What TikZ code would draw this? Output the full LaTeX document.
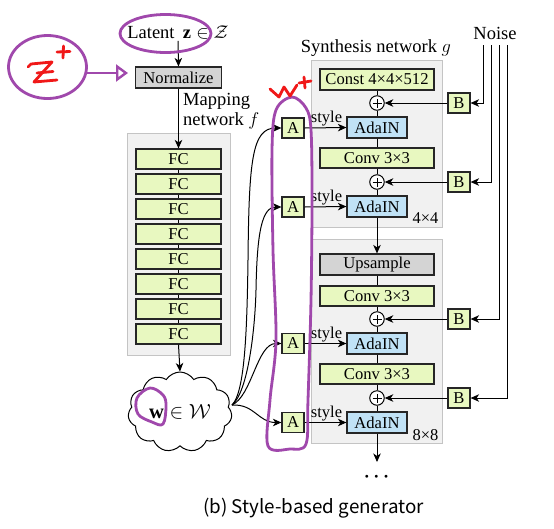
\RequirePackage{fix-cm}
\documentclass[tikz,border=0pt]{standalone}
\usepackage{fontspec}
\setmainfont{Liberation Serif}
\newfontfamily\capfont{Noto Sans CJK KR}
\usetikzlibrary{arrows.meta,shapes.symbols}
\definecolor{boxgreen}{RGB}{232,248,192}
\definecolor{boxblue}{RGB}{192,226,246}
\definecolor{boxgray}{RGB}{212,212,212}
\definecolor{panelgray}{RGB}{241,241,241}
\definecolor{panelborder}{RGB}{196,196,196}
\definecolor{penpurple}{RGB}{160,72,172}
\definecolor{penred}{RGB}{240,24,24}
\tikzset{
  box/.style={draw=black!85, line width=1.2pt, minimum height=20pt, inner sep=0pt, font=\fontsize{16.6}{18}\selectfont},
  gbox/.style={box, fill=boxgreen},
  bluebox/.style={box, fill=boxblue, minimum width=60pt, minimum height=21pt},
  greybox/.style={box, fill=boxgray},
  smallbox/.style={gbox, minimum width=22pt},
  arr/.style={-{Stealth[length=8.5pt,width=7.5pt,inset=2.5pt]}, line width=1pt},
  ln/.style={line width=1pt},
  plus/.style={circle, draw, fill=white, minimum size=14.5pt, inner sep=0pt, line width=1pt,
    path picture={\draw[line width=0.8pt] ([xshift=-4.5pt]path picture bounding box.center) -- ([xshift=4.5pt]path picture bounding box.center) ([yshift=-4.5pt]path picture bounding box.center) -- ([yshift=4.5pt]path picture bounding box.center);}},
  panel/.style={fill=panelgray, draw=panelborder, line width=1pt, inner sep=0pt},
  lbl/.style={font=\fontsize{18.5}{20}\selectfont, inner sep=0pt},
  slbl/.style={font=\fontsize{16.5}{18}\selectfont, inner sep=0pt},
  pen/.style={draw=penpurple, line width=2.8pt, line cap=round, line join=round},
  redpen/.style={draw=penred, line width=2.8pt, line cap=round, line join=round},
}
\begin{document}
\begin{tikzpicture}[x=1pt,y=-1pt]
\useasboundingbox (0,0) rectangle (554,528);
\fill[white] (0,0) rectangle (554,528);

% ---------- mapping network ----------
\node[lbl, anchor=base] (latent) at (178,38) {Latent\hspace{0.45em}$\mathbf{z}\in\mathcal{Z}$};
\node[greybox, minimum width=86pt, minimum height=21pt] (norm) at (178.5,77.5) {Normalize};
\node[lbl, align=left, anchor=north west] (maplbl) at (183,93.5) {Mapping\\network $f$};
\node[panel, minimum width=103pt, minimum height=222pt] (mapbg) at (178.5,244) {};
\foreach \i in {1,...,8} {
  \node[gbox, minimum width=85pt] (fc\i) at (178.5,{134+25*\i}) {FC};
}
\foreach \i [evaluate=\i as \j using int(\i+1)] in {1,...,7} {
  \draw[ln] (fc\i.south) -- (fc\j.north);
}
\draw[arr] ([yshift=-2pt]latent.south) -- (norm.north);
\draw[arr] (norm.south) -- (fc1.north);
\node[cloud, draw, line width=1pt, fill=white, cloud puffs=11, cloud puff arc=115, aspect=1.3,
      minimum width=104pt, minimum height=80pt, inner sep=0pt, font=\fontsize{20.5}{22}\selectfont]
      (cloud) at (180,412) {$\mathbf{w}\in\mathcal{W}$};
\draw[arr] (fc8.south) -- (cloud.north);

% ---------- synthesis network ----------
\node[lbl, anchor=base] (synlbl) at (376,52) {Synthesis network $g$};
\node[lbl, anchor=base] (noise) at (495,39) {Noise};
\node[panel, minimum width=131pt, minimum height=167pt] (panA) at (376.5,143.5) {};
\node[panel, minimum width=131pt, minimum height=204pt] (panB) at (376.5,341) {};

\node[gbox, minimum width=114pt, minimum height=21pt] (const) at (377,79.5) {Const 4×4×512};
\node[plus] (p1) at (377,103) {};
\node[bluebox] (ada1) at (377,127.5) {AdaIN};
\node[gbox, minimum width=114pt] (conv1) at (377,158) {Conv 3×3};
\node[plus] (p2) at (377,182) {};
\node[bluebox] (ada2) at (377,206.5) {AdaIN};
\node[slbl, anchor=base] (res4) at (425.5,223) {4×4};

\node[greybox, minimum width=114pt, minimum height=21pt] (ups) at (377,264.5) {Upsample};
\node[gbox, minimum width=114pt] (conv2) at (377,296) {Conv 3×3};
\node[plus] (p3) at (377,319) {};
\node[bluebox] (ada3) at (377,343.5) {AdaIN};
\node[gbox, minimum width=114pt] (conv3) at (377,374) {Conv 3×3};
\node[plus] (p4) at (377,398) {};
\node[bluebox] (ada4) at (377,422.5) {AdaIN};
\node[slbl, anchor=base] (res8) at (425.5,440) {8×8};
\coordinate (outend) at (377,462);
\node[font=\fontsize{19}{20}\selectfont\boldmath, inner sep=0pt] (dots) at (376.5,477) {$\cdots$};

\draw[ln] (const) -- (p1) -- (ada1) -- (conv1) -- (p2) -- (ada2);
\draw[arr] (ada2.south) -- (ups.north);
\draw[ln] (ups) -- (conv2) -- (p3) -- (ada3) -- (conv3) -- (p4) -- (ada4);
\draw[arr] (ada4.south) -- (outend);

% B boxes and noise
\foreach \n/\y in {1/103,2/182,3/319,4/398} {
  \node[smallbox] (B\n) at (459,\y) {B};
  \draw[arr] (B\n.west) -- (p\n.east);
}
\coordinate (n1) at (483,45);
\coordinate (n2) at (491.5,45);
\coordinate (n3) at (499.5,45);
\coordinate (n4) at (507,45);
\foreach \n in {1,...,4} { \draw[arr] (n\n) |- (B\n.east); }

% A boxes and styles
\foreach \n/\y in {1/128,2/207,3/343.5,4/422.5} {
  \node[smallbox] (A\n) at (293,\y) {A};
  \draw[arr] (A\n.east) -- node[slbl, anchor=base, pos=0.5, yshift=5pt, xshift=1pt] {style} (ada\n.west);
}
\coordinate (cl) at (232,405);
\draw[arr] (cl) .. controls (245,392) and (247,330) .. (248,260) .. controls (249,160) and (252,128) .. (A1.west);
\draw[arr] (cl) .. controls (248,392) and (255,330) .. (256,290) .. controls (257,232) and (262,207) .. (A2.west);
\draw[arr] (cl) .. controls (252,396) and (257,343.5) .. (A3.west);
\draw[arr] (cl) .. controls (255,404) and (258,422.5) .. (A4.west);

% caption
\node[font=\capfont\fontsize{18.8}{20}\selectfont, anchor=base, inner sep=0pt] (caption) at (313.5,513) {(b) Style-based generator};

% ---------- handwritten annotations ----------
\draw[pen] (165.5,33.5) ellipse [x radius=45.5, y radius=19];
\draw[pen] (47.5,67) ellipse [x radius=39, y radius=31.5];
\draw[pen, -{Triangle[open, length=12pt, width=17pt, line width=2.4pt]}] (87,73) -- (128,73);
\draw[pen] plot[smooth cycle, tension=0.6] coordinates {(150,388) (163,395) (166,406) (163,424) (152,422) (138,414) (137,398)};
\draw[pen] plot[smooth cycle, tension=0.55] coordinates {(292,97) (306,108) (311,130) (312,200) (311,300) (308,400) (306,444) (290,449) (268,446) (270,400) (276,340) (273,250) (272,150) (276,110)};
% red Z+
\draw[redpen] (28,67) -- (31,64) -- (52,62) -- (34,82) -- (57,80);
\draw[redpen] (37,73) -- (53,71.5);
\draw[redpen] (57,52) -- (70,51.5) (63.5,46) -- (63,58);
% red W+
\draw[redpen] (270,89) -- (279,97) -- (284,87) -- (290,96) -- (297,85);
\draw[redpen] (299,83) -- (311,81) (304,77) -- (305,88);
\end{tikzpicture}
\end{document}
